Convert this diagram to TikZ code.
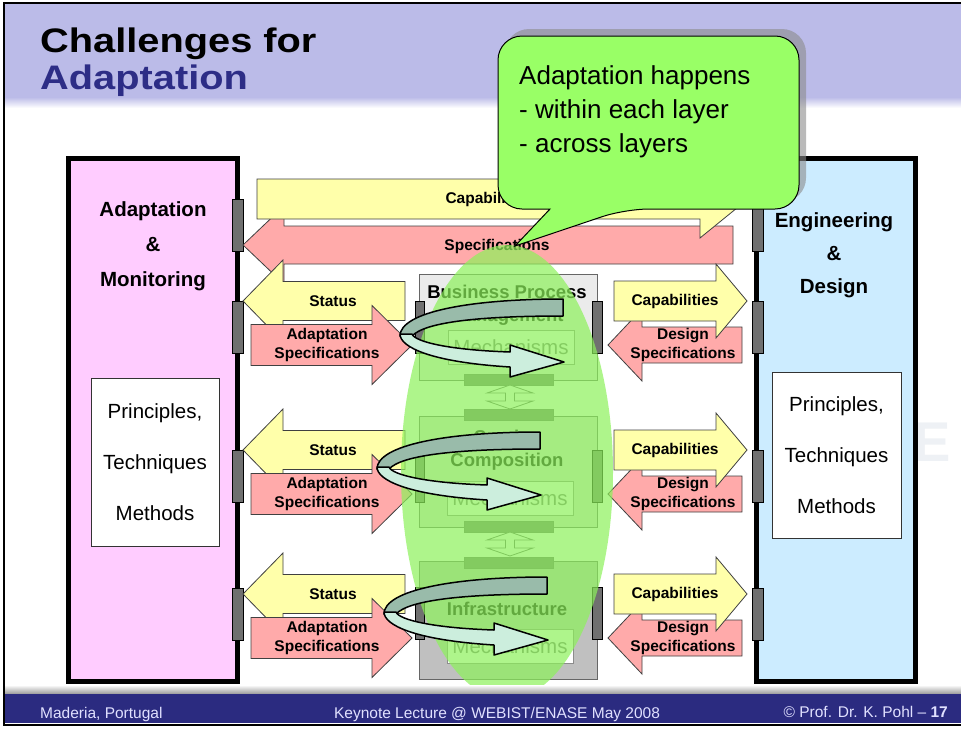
\documentclass[tikz,border=0pt]{standalone}
\usepackage{fontspec}
\setmainfont{Liberation Sans}
\newfontfamily\titlefont[FakeStretch=1.17]{Liberation Sans}

\definecolor{bandlav}{HTML}{BBBBE8}
\definecolor{titleblue}{HTML}{2D2D86}
\definecolor{monpink}{HTML}{FFCCFF}
\definecolor{engblue}{HTML}{CCECFF}
\definecolor{tabgray}{HTML}{707070}
\definecolor{capyellow}{HTML}{FFFFAA}
\definecolor{specpink}{HTML}{FFAAAA}
\definecolor{lone}{HTML}{EBEBEB}
\definecolor{ltwo}{HTML}{E0E0E0}
\definecolor{lthree}{HTML}{C0C0C0}
\definecolor{glowgreen}{HTML}{8CF25A}
\definecolor{notegreen}{HTML}{99FF66}
\definecolor{turnback}{HTML}{99BBAA}
\definecolor{turnfront}{HTML}{CCEEDD}
\definecolor{footblue}{HTML}{2B2B80}
\definecolor{logogray}{HTML}{EEF1F5}

% block arrow: style, tail x, head base x, tip x, centre y, body half, head half
\newcommand{\blockarrow}[7]{%
  \draw[#1] (#2,#5-#6) -- (#3,#5-#6) -- (#3,#5-#7) -- (#4,#5)
    -- (#3,#5+#7) -- (#3,#5+#6) -- (#2,#5+#6) -- cycle;}

% u-turn ribbon, placed by its upper right corner
\newcommand{\turnarrow}[1]{%
  \begin{scope}[shift={#1}]
    \draw[turnb] (0,0) -- (0,17) .. controls (-83,17) and (-138,23) .. (-151,37)
      -- (-163,37) .. controls (-163,13) and (-93,0) .. (0,0) -- cycle;
    \draw[turnf] (-163,35) .. controls (-163,48) and (-133,63) .. (-53,68)
      -- (-53,78) -- (1,63) -- (-53,46) -- (-53,53)
      .. controls (-113,51) and (-148,43) .. (-151,35) -- cycle;
  \end{scope}}

\newcommand{\notepath}{(625,209) -- (515,246) -- (550,209) [rounded corners=24]
  -- (498,209) -- (498,36) -- (799,36) -- (799,209) -- cycle}

\begin{document}
\begin{tikzpicture}[x=1pt,y=-1pt,
    panel/.style={draw=black,line width=5pt,inner sep=0pt},
    techbox/.style={draw=black!80,fill=white,line width=0.8pt,align=center,
      font=\fontsize{20.5}{51}\selectfont},
    paneltxt/.style={align=center,inner sep=0pt,
      font=\bfseries\fontsize{20.5}{35}\selectfont},
    tab/.style={draw=black,fill=tabgray,line width=0.8pt},
    yarrow/.style={draw=black!75,fill=capyellow,line width=0.8pt},
    parrow/.style={draw=black!75,fill=specpink,line width=0.8pt},
    lbl/.style={align=center,inner sep=0pt,
      font=\bfseries\fontsize{15.5}{18.5}\selectfont},
    layer/.style={draw=black!60,line width=1pt,inner sep=0pt},
    layertxt/.style={align=center,inner sep=0pt,
      font=\bfseries\fontsize{18.5}{23}\selectfont},
    mech/.style={draw=black!45,fill=white,line width=1pt,minimum width=126,
      minimum height=34,text=black!55,font=\fontsize{20.5}{24}\selectfont},
    bar/.style={draw=black!60,fill=tabgray},
    updown/.style={draw=black!60,fill=white,line width=0.8pt},
    glow/.style={fill=glowgreen,fill opacity=0.7},
    turnb/.style={draw=black,fill=turnback,line width=1.5pt,line join=round},
    turnf/.style={draw=black,fill=turnfront,line width=1.5pt,line join=round},
    note/.style={draw=black,fill=notegreen,line width=1pt},
    notetxt/.style={anchor=base west,inner sep=0pt,font=\fontsize{26}{30}\selectfont},
    foot/.style={anchor=base,inner sep=0pt,text=white!88!blue,
      font=\fontsize{15.5}{18}\selectfont}]

  \useasboundingbox (0,0) rectangle (961,731);
  \fill[white] (0,0) rectangle (961,731);

  % title band
  \fill[bandlav] (5,4) rectangle (961,97);
  \shade[top color=bandlav,bottom color=white] (5,97) rectangle (961,108);
  \node[anchor=base west,inner sep=0pt,
    font=\titlefont\bfseries\fontsize{34}{34}\selectfont] (title1) at (40,52) {Challenges for};
  \node[anchor=base west,inner sep=0pt,text=titleblue,
    font=\titlefont\bfseries\fontsize{34}{34}\selectfont] (title2) at (40,89) {Adaptation};

  % faint logo
  \node[text=logogray,font=\bfseries\fontsize{56}{56}\selectfont] (logo) at (932,442) {E};

  % side panels
  \node[panel,fill=monpink,minimum width=169,minimum height=523] (monitor) at (152.5,419.5) {};
  \node[paneltxt] (montxt) at (153,246) {Adaptation\\\&\\Monitoring};
  \node[techbox,minimum width=128,minimum height=168] (montech) at (155,462)
    {Principles,\\Techniques\\Methods};

  \node[panel,fill=engblue,minimum width=159,minimum height=523] (design) at (835.5,419.5) {};
  \node[paneltxt,font=\bfseries\fontsize{20.5}{33}\selectfont] (destxt) at (834,255)
    {Engineering\\\&\\Design};
  \node[techbox,minimum width=129,minimum height=166] (destech) at (836.5,455)
    {Principles,\\Techniques\\Methods};

  \foreach \t in {199,301,450,588} {
    \draw[tab] (232,\t) rectangle (243,\t+52);
    \draw[tab] (752,\t) rectangle (763,\t+52);
  }

  % long arrows
  \blockarrow{parrow}{733}{284}{243}{245}{19}{39}
  \blockarrow{yarrow}{257}{700}{748}{199}{20}{39}
  \node[lbl] (capall) at (489,199) {Capabilities};
  \node[lbl] (specall) at (497,246) {Specifications};

  % arrows of each layer
  \foreach \s [count=\i] in {301,450,594} {
    \blockarrow{yarrow}{405}{283}{243}{\s}{19.5}{41}
    \blockarrow{parrow}{251}{372}{412}{\s+44}{20.5}{39.5}
    \node[lbl] (status\i) at (333,\s) {Status};
    \node[lbl] (adspec\i) at (327,\s+44) {Adaptation\\Specifications};
    \blockarrow{parrow}{742}{642}{608}{\s+44}{18}{36}
    \blockarrow{yarrow}{614}{716}{747}{\s}{20}{37}
    \node[lbl] (cap\i) at (675,\s) {Capabilities};
    \node[lbl] (despec\i) at (683,\s+44) {Design\\Specifications};
  }

  % layers
  \node[layer,fill=lone,minimum width=178,minimum height=106] (bpm) at (508,327) {};
  \node[layertxt] (bpmtxt) at (507,305) {Business Process\\Management};
  \node[mech] (mech1) at (511,347) {Mechanisms};

  \node[layer,fill=ltwo,minimum width=178,minimum height=111] (sc) at (508,471.5) {};
  \node[layertxt] (sctxt) at (507,450) {Service\\Composition};
  \node[mech] (mech2) at (510,498) {Mechanisms};

  \node[layer,fill=lthree,minimum width=178,minimum height=118] (infra) at (508,620) {};
  \node[layertxt] (infratxt) at (507,609) {Infrastructure};
  \node[mech] (mech3) at (510,646) {Mechanisms};

  \foreach \t in {301,450,587} {
    \draw[tab] (415,\t) rectangle (424,\t+52);
    \draw[tab] (592,\t) rectangle (602,\t+52);
  }
  \foreach \b in {374,409,521,557}
    \draw[bar] (464,\b) rectangle (553,\b+11);
  \foreach \u in {385,532}
    \draw[updown] (510,\u) -- (533,\u+8) -- (514.5,\u+8) -- (514.5,\u+16) -- (533,\u+16)
      -- (510,\u+24) -- (487,\u+16) -- (505.5,\u+16) -- (505.5,\u+8) -- (487,\u+8) -- cycle;

  % adaptation across layers
  \fill[glow] (507,472) ellipse [x radius=106pt,y radius=227pt];

  \turnarrow{(563,299)}
  \turnarrow{(540,432)}
  \turnarrow{(547,577)}

  % callout
  \fill[black!45,opacity=0.6,shift={(7,-7)}] \notepath;
  \draw[note] \notepath;
  \node[notetxt] (note1) at (519,84) {Adaptation happens};
  \node[notetxt] (note2) at (519,118) {- within each layer};
  \node[notetxt] (note3) at (519,152) {- across layers};

  % footer
  \shade[top color=white,bottom color=black!40] (5,685) rectangle (961,694);
  \fill[footblue] (5,694) rectangle (961,723);
  \draw[line width=2pt] (961,3) -- (4,3) -- (4,725) -- (961,725);
  \node[foot,anchor=base west] (place) at (40,718) {Maderia, Portugal};
  \node[foot] (event) at (497,718) {Keynote Lecture @ WEBIST/ENASE May 2008};
  \node[foot,anchor=base east] (author) at (948,717) {© Prof. Dr. K. Pohl – \textbf{17}};
\end{tikzpicture}
\end{document}
